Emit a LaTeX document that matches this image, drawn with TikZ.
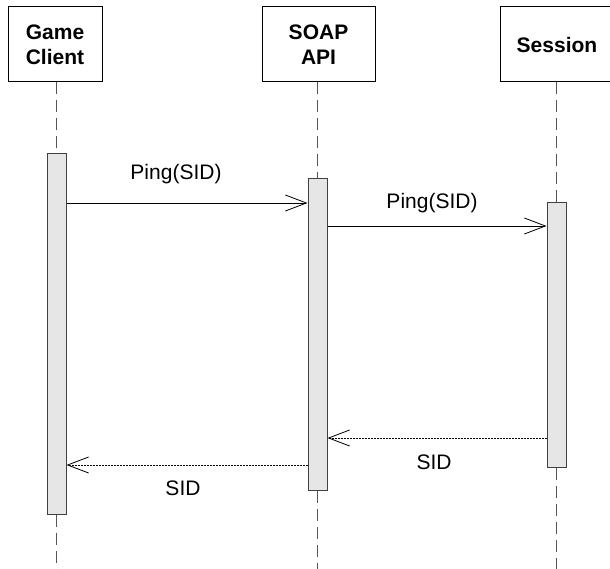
\documentclass[tikz,border=0pt]{standalone}
\usepackage{fontspec}
\setmainfont{Liberation Sans}
\usetikzlibrary{arrows.meta}
\definecolor{barfill}{HTML}{E6E6E6}
\definecolor{lifegray}{HTML}{555555}
\begin{document}
\begin{tikzpicture}[x=1pt,y=-1pt,
  actor/.style={draw=black, line width=1pt, fill=white, minimum height=75pt, inner sep=0pt,
    align=center, font=\fontsize{21}{25}\selectfont\bfseries},
  actbar/.style={draw=black!75, line width=1pt, fill=barfill, minimum width=19pt, inner sep=0pt},
  lifeline/.style={draw=lifegray, line width=1pt, dash pattern=on 12pt off 6pt},
  msg/.style={line width=0.8pt, -{Straight Barb[length=21pt,width=16pt]}},
  reply/.style={line width=0.8pt, dash pattern=on 2pt off 1pt, -{Straight Barb[length=21pt,width=16pt]}},
  lbl/.style={font=\fontsize{21}{24}\selectfont, inner sep=0pt}
]
\useasboundingbox (0,0) rectangle (610,569);
\begin{scope}
\clip (0,0) rectangle (610,569);
% actors
\node[actor, minimum width=94pt] (game) at (55,44.5) {Game\\Client};
\node[actor, minimum width=113pt] (soap) at (318.5,44.5) {SOAP\\API};
\node[actor, minimum width=113pt] (sess) at (557,44.5) {Session};
% activation bars
\node[actbar, minimum height=360pt] (gbar) at (56.5,334) {};
\node[actbar, minimum height=311pt] (sbar) at (317.5,334.5) {};
\node[actbar, minimum height=264pt] (ebar) at (556.5,335) {};
% bottom coordinates
\coordinate (gend) at (56.5,569);
\coordinate (send) at (317.5,569);
\coordinate (eend) at (556.5,569);
% lifelines
\draw[lifeline] (game.south -| gbar.north) -- (gbar.north);
\draw[lifeline] (soap.south -| sbar.north) -- (sbar.north);
\draw[lifeline] (sess.south -| ebar.north) -- (ebar.north);
\draw[lifeline] (gbar.south) -- (gend);
\draw[lifeline] (sbar.south) -- (send);
\draw[lifeline] (ebar.south) -- (eend);
% message heights
\coordinate (m1) at (0,203);
\coordinate (m2) at (0,226);
\coordinate (m3) at (0,438);
\coordinate (m4) at (0,465);
% messages
\draw[msg] (gbar.east |- m1) -- (sbar.west |- m1);
\draw[msg] (sbar.east |- m2) -- (ebar.west |- m2);
\draw[reply] (ebar.west |- m3) -- (sbar.east |- m3);
\draw[reply] (sbar.west |- m4) -- (gbar.east |- m4);
% labels
\node[lbl] (l1) at (176,174) {Ping(SID)};
\node[lbl] (l2) at (432,203) {Ping(SID)};
\node[lbl] (l3) at (434,462) {SID};
\node[lbl] (l4) at (183,488) {SID};
\end{scope}
\end{tikzpicture}
\end{document}
